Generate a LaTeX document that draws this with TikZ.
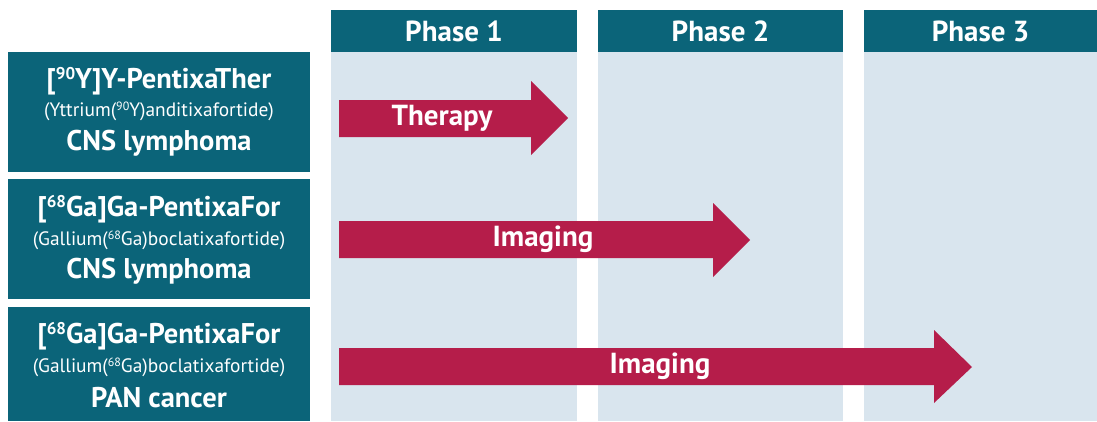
\documentclass[tikz,border=0pt]{standalone}
\usepackage{fontspec}
\setmainfont{PT Sans}
\definecolor{teal}{HTML}{0B6479}
\definecolor{pale}{HTML}{D9E5EE}
\definecolor{crim}{HTML}{B51D4A}
\newcommand{\isosup}[2]{\raisebox{0.32em}{\fontsize{#1}{#1}\selectfont #2}}
\begin{document}
\begin{tikzpicture}[x=1pt,y=-1pt,
  head/.style={fill=teal,text=white,font=\fontsize{29}{32}\selectfont\bfseries,inner sep=0pt},
  col/.style={fill=pale},
  drug/.style={fill=teal},
  ttl/.style={text=white,font=\fontsize{28.5}{32}\selectfont\bfseries,inner sep=0pt},
  sub/.style={text=white,font=\fontsize{19.4}{22}\selectfont,inner sep=0pt},
  arrowlbl/.style={text=white,font=\fontsize{29}{32}\selectfont\bfseries,inner sep=0pt},
  bigarrow/.style={fill=crim}]
\useasboundingbox (0,0) rectangle (1097,421);
% columns
\foreach \a/\b/\n in {331/577/1,598/843/2,864/1097/3}{
  \fill[col] (\a,10) rectangle (\b,421);
  \fill[teal] (\a,10) rectangle (\b,52);
  \node[head] (ph\n) at ({(\a+\b)/2},31) {Phase \n};
}
% drug boxes
\fill[drug] (8,52) rectangle (310,172);
\fill[drug] (8,179) rectangle (310,299);
\fill[drug] (8,307) rectangle (310,421);
\node[ttl] (t1) at (159,81) {[\isosup{17}{90}Y]Y-PentixaTher};
\node[sub] (s1) at (159,111) {(Yttrium(\isosup{12}{90}Y)anditixafortide)};
\node[ttl] (c1) at (159,143) {CNS lymphoma};
\node[ttl] (t2) at (159,209) {[\isosup{17}{68}Ga]Ga-PentixaFor};
\node[sub] (s2) at (159,240) {(Gallium(\isosup{12}{68}Ga)boclatixafortide)};
\node[ttl] (c2) at (159,271) {CNS lymphoma};
\node[ttl] (t3) at (159,336) {[\isosup{17}{68}Ga]Ga-PentixaFor};
\node[sub] (s3) at (159,367) {(Gallium(\isosup{12}{68}Ga)boclatixafortide)};
\node[ttl] (c3) at (159,398) {PAN cancer};
% arrows
\fill[bigarrow] (339,100) -- (531,100) -- (531,81) -- (568,118) -- (531,155) -- (531,137) -- (339,137) -- cycle;
\fill[bigarrow] (339,221) -- (713,221) -- (713,203) -- (750,240) -- (713,277) -- (713,258) -- (339,258) -- cycle;
\fill[bigarrow] (339,348) -- (934,348) -- (934,330) -- (972,367) -- (934,403) -- (934,385) -- (339,385) -- cycle;
\node[arrowlbl] (a1) at (442,118) {Therapy};
\node[arrowlbl] (a2) at (543,239) {Imaging};
\node[arrowlbl] (a3) at (660,366) {Imaging};
\end{tikzpicture}
\end{document}
